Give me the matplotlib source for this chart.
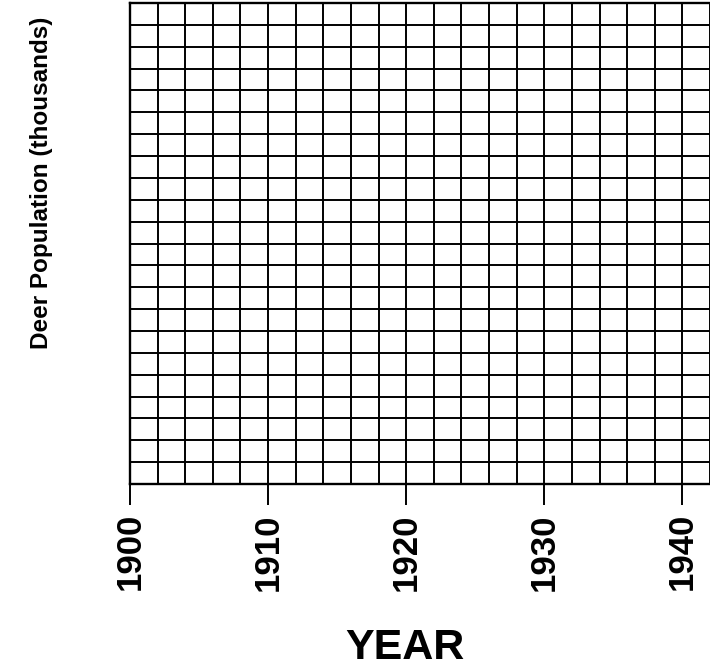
"""Blank deer population worksheet grid."""

import matplotlib

matplotlib.use("Agg")
import matplotlib.pyplot as plt
import numpy as np

# axis values
decade_years = [1900, 1910, 1920, 1930, 1940]
decade_labels = ["1900", "1910", "1920", "1930", "1940"]
year_start, year_end = 1900, 1942
cell_years = 2
population_rows = 22

plt.rcParams["font.family"] = ["Liberation Sans", "DejaVu Sans"]
plt.rcParams["font.weight"] = "bold"

W, H = 710, 669
fig = plt.figure(figsize=(W / 100, H / 100), dpi=100)
ax = fig.add_axes([130 / W, 1 - 484 / H, (W - 130) / W, (484 - 3) / H])

ax.set_xlim(year_start, year_end)
ax.set_ylim(0, population_rows)

ax.set_xticks(decade_years)
ax.set_xticklabels(decade_labels, rotation=90, fontsize=25, fontweight="bold")
ax.set_xticks(np.arange(year_start, year_end + 1, cell_years), minor=True)
ax.set_yticks(np.arange(0, population_rows + 1, 1))
ax.set_yticklabels([])

ax.tick_params(axis="x", which="major", length=15, width=1.4, pad=6, color="black")
ax.tick_params(axis="x", which="minor", length=0)
ax.tick_params(axis="y", length=0)

ax.grid(True, which="both", color="black", linewidth=1.4)
ax.set_axisbelow(False)

for side in ("left", "bottom", "top"):
    ax.spines[side].set_linewidth(1.7)
ax.spines["right"].set_visible(False)

fig.text(42 / W, 1 - 183 / H, "Deer Population (thousands)", rotation=90,
         ha="center", va="center", fontsize=17.5, fontweight="bold")
fig.text(405 / W, 1 - 659 / H, "YEAR", ha="center", va="baseline",
         fontsize=31, fontweight="bold")

fig.savefig("out.png", dpi=100)
